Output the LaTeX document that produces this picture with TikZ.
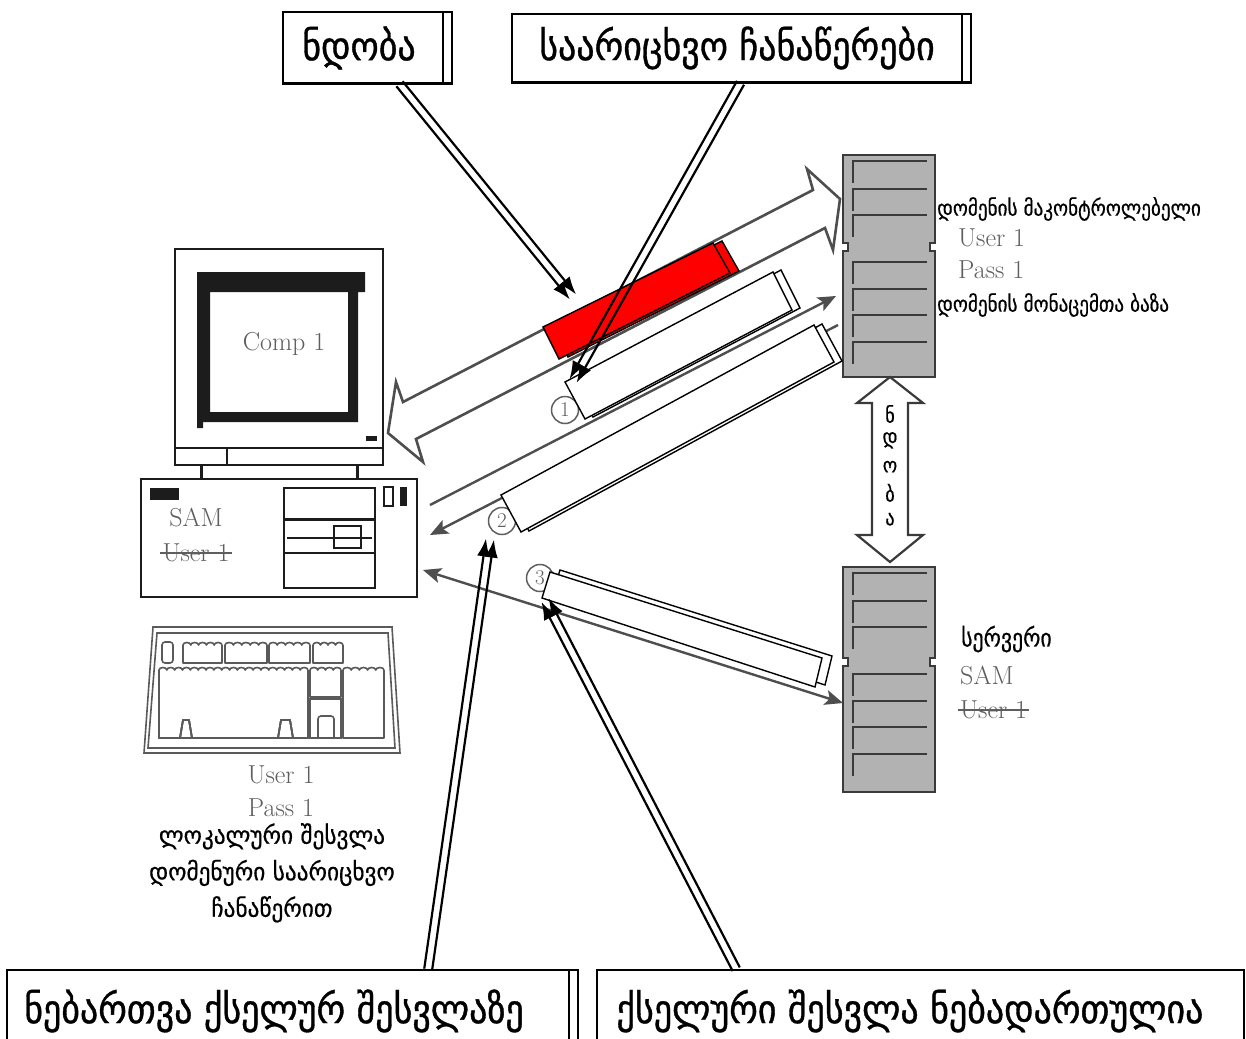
\documentclass[tikz,border=0pt]{standalone}
\usepackage{fontspec}
\usetikzlibrary{calc,arrows.meta}
\newfontfamily\geobig{DejaVu Sans}[FakeStretch=0.9, FakeBold=0.9]
\newfontfamily\geosm{DejaVu Sans}[FakeStretch=0.87, FakeBold=0.6]
\newfontfamily\geolft{DejaVu Sans}[FakeStretch=0.95, FakeBold=0.6]
\definecolor{srvgray}{HTML}{B2B2B2}
\definecolor{srvedge}{HTML}{3A3A3A}
\definecolor{ink}{HTML}{1C1C1C}
\definecolor{latgray}{HTML}{5E5E5E}
\definecolor{flowgray}{HTML}{4E4E4E}
\definecolor{kbgray}{HTML}{5A5A5A}

\tikzset{
  labelbox/.style={draw=black, line width=1.6pt, fill=white, inner sep=0pt},
  boxtext/.style={font=\geobig\fontsize{40}{42}\selectfont, inner sep=0pt},
  callout/.style={draw=black, line width=2.2pt, -{Latex[length=18pt,width=13pt]}},
  pkt/.style={draw=black, line width=1.4pt, fill=white},
  redpkt/.style={draw=black, line width=1.4pt, fill=red},
  blockarrow/.style={draw=flowgray, line width=2.6pt, fill=white, line join=miter},
  thinflow/.style={draw=flowgray, line width=2.4pt},
  flowhead/.tip={Stealth[length=18pt,width=15pt,inset=4pt]},
  lat/.style={font=\fontsize{26}{28}\selectfont\addfontfeatures{FakeBold=0.6}, text=latgray, inner sep=0pt},
  geosmall/.style={font=\geosm\fontsize{22}{24}\selectfont, inner sep=0pt},
  geoleft/.style={font=\geolft\fontsize{24.5}{36.5}\selectfont, inner sep=0pt},
  numcirc/.style={circle, draw=latgray, line width=1.5pt, minimum size=27pt, inner sep=0pt, text=latgray, font=\fontsize{21}{21}\selectfont},
  comp/.style={draw=ink, line width=2pt},
  kb/.style={draw=kbgray, line width=1.6pt},
  slot/.style={draw=srvedge, line width=2.6pt},
}

% two parallel lines, each with its own head
\newcommand{\twinarrow}[2]{%
  \draw[callout] ($(#1)!4pt!90:(#2)$) -- ($(#2)!4pt!-90:(#1)$);
  \draw[callout] ($(#1)!4pt!-90:(#2)$) -- ($(#2)!4pt!90:(#1)$);
}

% rack server: #1 left x, #2 top y, #3 height, #4 notch offset
\newcommand{\rackunit}[4]{%
  \filldraw[fill=srvgray, draw=srvedge, line width=2pt]
    (#1,#2) -- (#1+92,#2) -- (#1+92,#2+#4-4) -- (#1+87,#2+#4-4) -- (#1+87,#2+#4+4)
    -- (#1+92,#2+#4+4) -- (#1+92,#2+#3) -- (#1,#2+#3) -- (#1,#2+#4+4)
    -- (#1+5,#2+#4+4) -- (#1+5,#2+#4-4) -- (#1,#2+#4-4) -- cycle;
  \foreach \s in {6,34,60,107,134,160,187}
    \draw[slot] (#1+10,#2+\s+22) -- (#1+10,#2+\s) -- (#1+84,#2+\s);
}

% key cap with a scalloped top: x from #1 to #2, top #3, bottom #4
\newcommand{\keycap}[4]{%
  \pgfmathtruncatemacro\nbump{max(1,round((#2-#1)/8))}%
  \pgfmathsetmacro\rbump{(#2-#1)/(2*\nbump)}%
  \draw[kb, line join=round] (#2,#3) -- (#2,#4) -- (#1,#4) -- (#1,#3)
    \foreach \k in {1,...,\nbump} { arc[start angle=180, end angle=0, x radius=\rbump pt, y radius=2.5pt] };
}

\begin{document}
\begin{tikzpicture}[x=1pt,y=-1pt]
\clip (0,0) rectangle (1246,1038);
\fill[white] (0,0) rectangle (1246,1038);

% ---------- label boxes ----------
\node[labelbox, minimum width=169pt, minimum height=71pt] (trustbox) at (367.5,47.5) {};
\node[labelbox, minimum width=459pt, minimum height=68pt] (acctbox) at (741.5,48) {};
\node[labelbox, minimum width=571pt, minimum height=80pt] (permitbox) at (292.5,1010) {};
\node[labelbox, minimum width=647pt, minimum height=80pt] (allowbox) at (920.5,1010) {};
\foreach \b in {trustbox,acctbox,permitbox}
  \draw[black, line width=1.4pt] ([xshift=-10pt]\b.north east) -- ([xshift=-10pt]\b.south east);
\foreach \b in {trustbox,acctbox}
  \draw[black, line width=3pt] (\b.south west) -- (\b.south east);

\node[boxtext] (trusttext) at (359,48) {ნდობა};
\node[boxtext] (accttext) at (737,48) {საარიცხვო ჩანაწერები};
\node[boxtext] (permittext) at (274,1011) {ნებართვა ქსელურ შესვლაზე};
\node[boxtext] (allowtext) at (910,1011) {ქსელური შესვლა ნებადართულია};

% ---------- workstation ----------
\draw[comp] (175,249) rectangle (383,448);
\draw[comp] (175,448) rectangle (383,465);
\draw[comp] (227,448) -- (227,465);
\fill[ink, even odd rule]
  (197,272) -- (365,272) -- (365,292) -- (358,292) -- (358,422) -- (203,422)
  -- (203,428) -- (197,428) -- cycle
  (210,292) rectangle (348,412);
\node[lat] (comp) at (284,344) {Comp 1};
\fill[ink] (366,436) rectangle (377,441);
\draw[comp, line width=3pt] (201,465) -- (201,479);
\draw[comp, line width=3pt] (357,465) -- (357,479);

\draw[comp] (141,479) rectangle (417,597);
\fill[ink] (150,488) rectangle (179,500);
\node[lat] (pcsam) at (196,518) {SAM};
\node[lat] (pcuser) at (196,553) {User 1};
\draw[latgray, line width=1.6pt] ([xshift=-2pt]pcuser.west) -- ([xshift=2pt]pcuser.east);
\draw[comp] (284,488) rectangle (375,588);
\draw[comp, line width=3pt] (284,519) -- (375,519);
\draw[comp, line width=1.4pt] (287,538) -- (372,538);
\draw[comp] (284,553) -- (375,553);
\draw[comp, line width=2.4pt] (334,526) rectangle (361,548);
\draw[comp] (384,487) rectangle (393,506);
\fill[ink] (400,487) rectangle (407,506);

% ---------- keyboard ----------
\draw[kb] (153,627) -- (392,627) -- (400,753) -- (144,753) -- cycle;
\draw[kb] (157,633) -- (388,633) -- (395,748) -- (148,748) -- cycle;
\draw[kb, rounded corners=3pt] (162,663) -- (162,642) -- (173,642) -- (173,663) -- cycle;
\foreach \a/\b in {183/222,225/267,269/310,313/343}
  \keycap{\a}{\b}{645}{663}
\draw[kb, line join=round] (159,670) -- (159,738) -- (180,738) -- (183,720) -- (189,720) -- (192,738)
  -- (278,738) -- (281,720) -- (290,720) -- (293,738) -- (308,738) -- (308,670);
\keycap{159}{308}{670}{738}
\keycap{310}{341}{670}{697}
\draw[kb] (310,699) -- (341,699) -- (341,738) -- (310,738) -- cycle;
\draw[kb, rounded corners=3pt] (318,738) -- (318,716) -- (334,716) -- (334,738);
\keycap{343}{384}{670}{738}

\node[lat] (kbuser) at (281,775) {User 1};
\node[lat] (kbpass) at (281,808) {Pass 1};
\node[geoleft, align=center, anchor=north] (locallogon) at (272,823)
  {ლოკალური შესვლა\\დომენური საარიცხვო\\ჩანაწერით};

% ---------- servers ----------
\rackunit{843}{155}{222}{92}
\rackunit{843}{567}{225}{95}
\node[inner sep=0pt, minimum width=92pt, minimum height=222pt] (dc) at (889,266) {};
\node[inner sep=0pt, minimum width=92pt, minimum height=225pt] (srv) at (889,679.5) {};

\node[geosmall, anchor=west] (dcname) at (937,209) {დომენის მაკონტროლებელი};
\node[lat, anchor=west] (dcuser) at (958,238) {User 1};
\node[lat, anchor=west] (dcpass) at (958,270) {Pass 1};
\node[geosmall, anchor=west] (dcdb) at (937,305) {დომენის მონაცემთა ბაზა};
\node[geosmall, font=\geosm\fontsize{25}{27}\selectfont, anchor=west] (srvname) at (961,639) {სერვერი};
\node[lat, anchor=west] (srvsam) at (960,676) {SAM};
\node[lat, anchor=west] (srvuser) at (960,710) {User 1};
\draw[latgray, line width=1.6pt] ([xshift=-2pt]srvuser.west) -- ([xshift=2pt]srvuser.east);

% trust between the two servers
\draw[draw=srvedge, line width=2.2pt, fill=white]
  (890,377) -- (923,403) -- (908,403) -- (908,535) -- (923,535) -- (890,562)
  -- (857,535) -- (872,535) -- (872,403) -- (857,403) -- cycle;
\foreach \ch [count=\i from 0] in {ნ,დ,ო,ბ,ა}
  \node[font=\geosm\fontsize{21}{21}\selectfont, inner sep=0pt] at (890,414+26.3*\i) {\ch};

% ---------- logon exchange ----------
\draw[blockarrow]
  (403,402) -- (813,190) -- (807,169) -- (840,199) -- (833,250) -- (825,228)
  -- (416,439) -- (423,462) -- (388,433) -- (396,382) -- cycle;

\coordinate (pcA) at (430,505);
\coordinate (pcB) at (430,535);
\coordinate (pcC) at (423,570);
\coordinate (dcA) at (836,296);
\coordinate (dcB) at (838,325);
\coordinate (srvC) at (843,703);
\draw[thinflow, -flowhead] (pcA) -- (dcA);
\draw[thinflow, -flowhead] (dcB) -- (pcB);
\draw[thinflow, flowhead-flowhead] (pcC) -- (srvC);

\node[numcirc] (n1) at (565,410) {1};
\node[numcirc] (n2) at (502,521) {2};
\node[numcirc] (n3) at (540,578) {3};

% packets (each with a copy behind it)
\filldraw[redpkt, shift={(9,-2)}] (543,327) -- (713,243) -- (730,273) -- (559,359) -- cycle;
\filldraw[redpkt] (543,327) -- (713,243) -- (730,273) -- (559,359) -- cycle;
\filldraw[pkt, shift={(8,-2)}] (565,382) -- (773,272) -- (792,310) -- (585,419) -- cycle;
\filldraw[pkt] (565,382) -- (773,272) -- (792,310) -- (585,419) -- cycle;
\filldraw[pkt, shift={(8,-1)}] (501,495) -- (814,325) -- (834,362) -- (521,532) -- cycle;
\filldraw[pkt] (501,495) -- (814,325) -- (834,362) -- (521,532) -- cycle;
\filldraw[pkt, shift={(10,-2)}] (550,572) -- (822,658) -- (815,687) -- (542,598) -- cycle;
\filldraw[pkt] (550,572) -- (822,658) -- (815,687) -- (542,598) -- cycle;

% ---------- callouts ----------
\coordinate (trustfoot) at ($(trustbox.south)+(32,0)$);
\coordinate (acctfoot) at ($(acctbox.south)+(-1,0)$);
\coordinate (permitfoot) at ($(permitbox.north west)+(422,0)$);
\coordinate (allowfoot) at ($(allowbox.north west)+(140,0)$);
\coordinate (trustpt) at (573,297);
\coordinate (acctpt) at (573,381);
\coordinate (permitpt) at (490,539);
\coordinate (allowpt) at (545,600);
\twinarrow{trustfoot}{trustpt}
\twinarrow{acctfoot}{acctpt}
\twinarrow{permitfoot}{permitpt}
\twinarrow{allowfoot}{allowpt}
\end{tikzpicture}
\end{document}
